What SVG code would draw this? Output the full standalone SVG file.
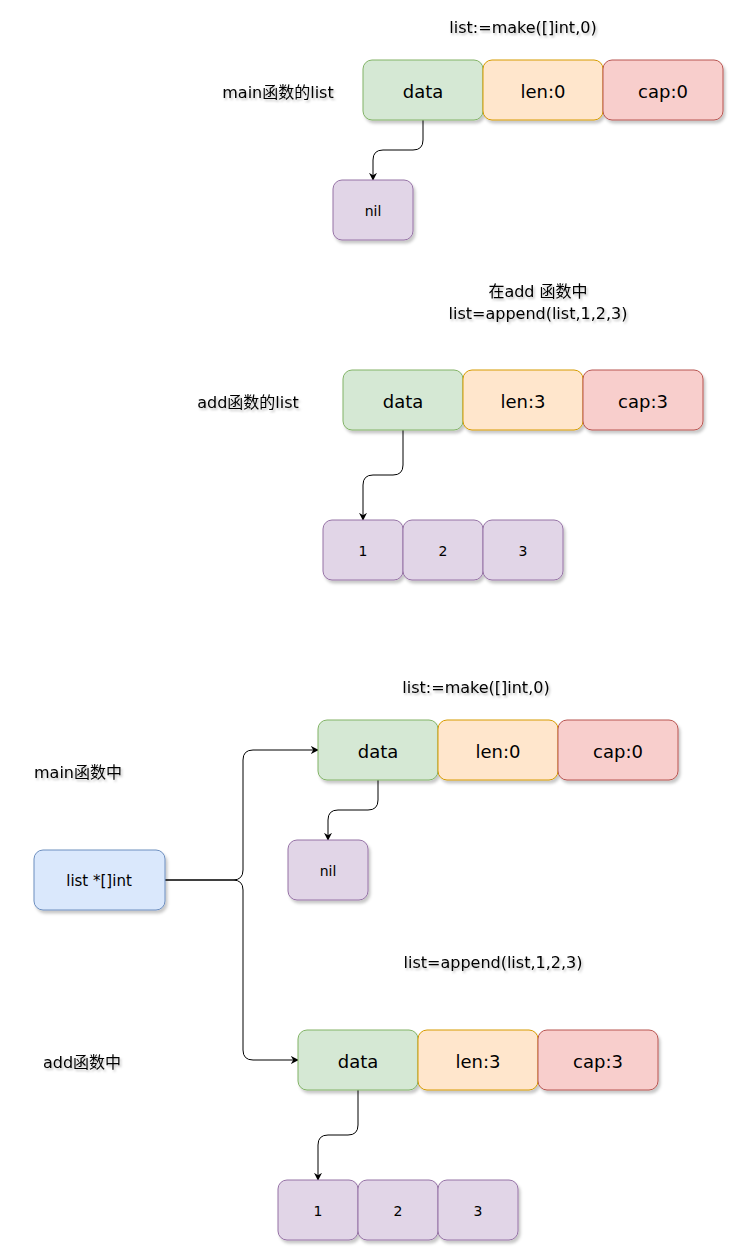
<svg xmlns="http://www.w3.org/2000/svg" width="735" height="1252" viewBox="0 0 735 1252">
<defs>
<filter id="sh" x="-20%" y="-20%" width="150%" height="150%">
<feDropShadow dx="2" dy="3" stdDeviation="1.5" flood-color="#000" flood-opacity="0.22"/>
</filter>
<filter id="tsh" x="-10%" y="-30%" width="130%" height="180%">
<feDropShadow dx="1.5" dy="2" stdDeviation="1.2" flood-color="#000" flood-opacity="0.25"/>
</filter>
<marker id="arr" viewBox="0 0 10 10" refX="9" refY="5" markerWidth="8" markerHeight="8" markerUnits="userSpaceOnUse" orient="auto">
<path d="M0,0 L10,5 L0,10 L3,5 Z" fill="#000"/>
</marker>
</defs>
<style>
rect{stroke-width:1;filter:url(#sh)}
.g{fill:#d5e8d4;stroke:#82b366}
.o{fill:#ffe6cc;stroke:#d79b00}
.r{fill:#f8cecc;stroke:#b85450}
.p{fill:#e1d5e7;stroke:#9673a6}
.b{fill:#dae8fc;stroke:#6c8ebf}
text{font-family:"DejaVu Sans","Noto Sans CJK SC",sans-serif;fill:#000;text-anchor:middle;dominant-baseline:central}
.big{font-size:18px}
.sm{font-size:14px}
.lbl{font-size:16px;filter:url(#tsh)}
.edge{fill:none;stroke:#000;stroke-width:1;marker-end:url(#arr)}
</style>

<g id="labels">
<text class="lbl" x="523" y="27">list:=make([]int,0)</text>
<text class="lbl" x="278" y="92">main函数的list</text>
<text class="lbl" x="538" y="291">在add 函数中</text>
<text class="lbl" x="538" y="313">list=append(list,1,2,3)</text>
<text class="lbl" x="248" y="402">add函数的list</text>
<text class="lbl" x="476" y="687">list:=make([]int,0)</text>
<text class="lbl" x="78" y="772">main函数中</text>
<text class="lbl" x="493" y="962">list=append(list,1,2,3)</text>
<text class="lbl" x="82" y="1062">add函数中</text>
</g>

<g id="connectors">
<path class="edge" d="M423,120 V140 Q423,150 413,150 H383 Q373,150 373,160 V180"/>
<path class="edge" d="M403,430 V465 Q403,475 393,475 H373 Q363,475 363,485 V520"/>
<path class="edge" d="M378,780 V800 Q378,810 368,810 H338 Q328,810 328,820 V840"/>
<path class="edge" d="M165,880 H233 Q243,880 243,870 V760 Q243,750 253,750 H318"/>
<path class="edge" d="M165,880 H233 Q243,880 243,890 V1050 Q243,1060 253,1060 H298"/>
<path class="edge" d="M358,1090 V1125 Q358,1135 348,1135 H328 Q318,1135 318,1145 V1180"/>
</g>

<g id="s1-data"><rect class="g" x="363" y="60" width="120" height="60" rx="9"/><text class="big" x="423" y="91">data</text></g>
<g id="s1-len"><rect class="o" x="483" y="60" width="120" height="60" rx="9"/><text class="big" x="543" y="91">len:0</text></g>
<g id="s1-cap"><rect class="r" x="603" y="60" width="120" height="60" rx="9"/><text class="big" x="663" y="91">cap:0</text></g>
<g id="s1-nil"><rect class="p" x="333" y="180" width="80" height="60" rx="9"/><text class="sm" x="373" y="211">nil</text></g>

<g id="s2-data"><rect class="g" x="343" y="370" width="120" height="60" rx="9"/><text class="big" x="403" y="401">data</text></g>
<g id="s2-len"><rect class="o" x="463" y="370" width="120" height="60" rx="9"/><text class="big" x="523" y="401">len:3</text></g>
<g id="s2-cap"><rect class="r" x="583" y="370" width="120" height="60" rx="9"/><text class="big" x="643" y="401">cap:3</text></g>
<g id="s2-i1"><rect class="p" x="323" y="520" width="80" height="60" rx="9"/><text class="sm" x="363" y="551">1</text></g>
<g id="s2-i2"><rect class="p" x="403" y="520" width="80" height="60" rx="9"/><text class="sm" x="443" y="551">2</text></g>
<g id="s2-i3"><rect class="p" x="483" y="520" width="80" height="60" rx="9"/><text class="sm" x="523" y="551">3</text></g>

<g id="s3-list"><rect class="b" x="34" y="850" width="131" height="60" rx="9"/><text class="lbl" style="filter:none;font-size:15px" x="99" y="881">list *[]int</text></g>
<g id="s3-data"><rect class="g" x="318" y="720" width="120" height="60" rx="9"/><text class="big" x="378" y="751">data</text></g>
<g id="s3-len"><rect class="o" x="438" y="720" width="120" height="60" rx="9"/><text class="big" x="498" y="751">len:0</text></g>
<g id="s3-cap"><rect class="r" x="558" y="720" width="120" height="60" rx="9"/><text class="big" x="618" y="751">cap:0</text></g>
<g id="s3-nil"><rect class="p" x="288" y="840" width="80" height="60" rx="9"/><text class="sm" x="328" y="871">nil</text></g>

<g id="s4-data"><rect class="g" x="298" y="1030" width="120" height="60" rx="9"/><text class="big" x="358" y="1061">data</text></g>
<g id="s4-len"><rect class="o" x="418" y="1030" width="120" height="60" rx="9"/><text class="big" x="478" y="1061">len:3</text></g>
<g id="s4-cap"><rect class="r" x="538" y="1030" width="120" height="60" rx="9"/><text class="big" x="598" y="1061">cap:3</text></g>
<g id="s4-i1"><rect class="p" x="278" y="1180" width="80" height="60" rx="9"/><text class="sm" x="318" y="1211">1</text></g>
<g id="s4-i2"><rect class="p" x="358" y="1180" width="80" height="60" rx="9"/><text class="sm" x="398" y="1211">2</text></g>
<g id="s4-i3"><rect class="p" x="438" y="1180" width="80" height="60" rx="9"/><text class="sm" x="478" y="1211">3</text></g>
</svg>
